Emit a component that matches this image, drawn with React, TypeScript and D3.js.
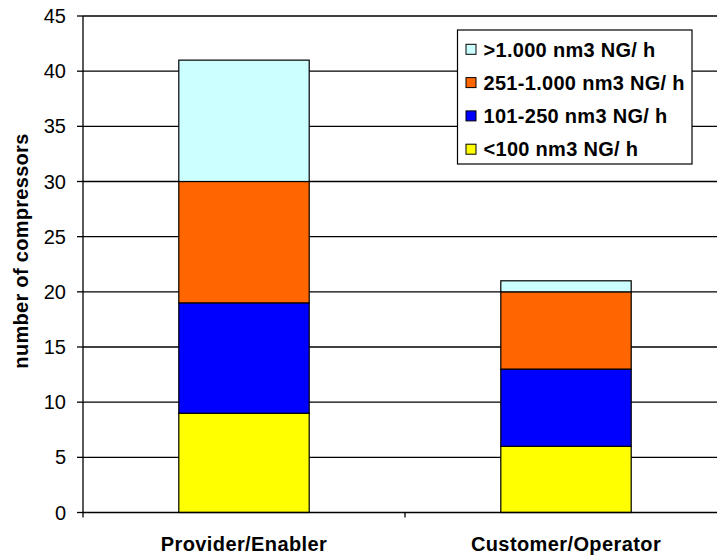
import React from "react";
import * as d3 from "d3";

const categories = ["Provider/Enabler", "Customer/Operator"];
const seriesNames = ["<100 nm3 NG/ h", "101-250 nm3 NG/ h", "251-1.000 nm3 NG/ h", ">1.000 nm3 NG/ h"];
const seriesColors = ["#FFFF00", "#0000FF", "#FF6600", "#CCFFFF"];
const under100 = [9, 6];
const from101to250 = [10, 7];
const from251to1000 = [11, 7];
const over1000 = [11, 1];
const yTicks = [0, 5, 10, 15, 20, 25, 30, 35, 40, 45];

export default function App() {
  const W = 717, H = 559;
  const left = 83, right = 727, top = 16, bottom = 512.5;
  const x = d3.scaleBand<string>().domain(categories).range([left, right]).paddingInner(0).paddingOuter(0);
  const y = d3.scaleLinear().domain([0, 45]).range([bottom, top]);
  const series = [under100, from101to250, from251to1000, over1000];
  const table = categories.map((c, i) => {
    const o: any = { cat: c };
    seriesNames.forEach((s, j) => (o[s] = series[j][i]));
    return o;
  });
  const stacked = d3.stack<any>().keys(seriesNames)(table);
  const bw = x.bandwidth() * 0.405;
  const font = "Liberation Sans, Arial, sans-serif";
  const legendOrder = [3, 2, 1, 0];
  return (
    <svg width={W} height={H} style={{ position: "absolute", left: 0, top: 0 }} fontFamily={font}>
      <rect width={W} height={H} fill="#fff" />
      {yTicks.filter((t) => t > 0).map((t) => (
        <line key={t} x1={left} x2={right} y1={y(t)} y2={y(t)} stroke="#000" strokeWidth={1.3} />
      ))}
      {stacked.map((layer, j) =>
        layer.map((d, i) => {
          const cx = x(categories[i])! + x.bandwidth() / 2;
          if (d[1] - d[0] <= 0) return null;
          return (
            <rect key={j + "-" + i} x={cx - bw / 2} y={y(d[1])} width={bw} height={y(d[0]) - y(d[1])}
              fill={seriesColors[j]} stroke="#000" strokeWidth={1.2} />
          );
        })
      )}
      <line x1={left} x2={left} y1={top} y2={bottom + 5} stroke="#000" strokeWidth={1.3} />
      <line x1={left} x2={right} y1={bottom} y2={bottom} stroke="#000" strokeWidth={1.3} />
      {yTicks.map((t) => (
        <g key={t}>
          <line x1={left - 6} x2={left} y1={y(t)} y2={y(t)} stroke="#000" strokeWidth={1.3} />
          <text x={66} y={y(t)} dy="0.35em" textAnchor="end" fontSize={20} fill="#000">{t}</text>
        </g>
      ))}
      {categories.map((c) => (
        <g key={c}>
          <line x1={x(c)! + x.bandwidth()} x2={x(c)! + x.bandwidth()} y1={bottom} y2={bottom + 5} stroke="#000" strokeWidth={1.3} />
          <text x={x(c)! + x.bandwidth() / 2} y={551} textAnchor="middle" fontSize={20} letterSpacing={0.4} fontWeight="bold" fill="#000">{c}</text>
        </g>
      ))}
      <text transform={`translate(28,${251}) rotate(-90)`} textAnchor="middle" fontSize={20} letterSpacing={0.3} fontWeight="bold" fill="#000">
        number of compressors
      </text>
      <rect x={457.5} y={30} width={234.5} height={134} fill="#fff" stroke="#000" strokeWidth={1.2} />
      {legendOrder.map((j, k) => {
        const ly = 49.3 + k * 33.3;
        return (
          <g key={j}>
            <rect x={466} y={ly - 5} width={10} height={10} fill={seriesColors[j]} stroke="#000" strokeWidth={1} />
            <text x={483.5} y={ly} dy="0.36em" fontSize={20} letterSpacing={0.3} fontWeight="bold" fill="#000">{seriesNames[j]}</text>
          </g>
        );
      })}
    </svg>
  );
}
